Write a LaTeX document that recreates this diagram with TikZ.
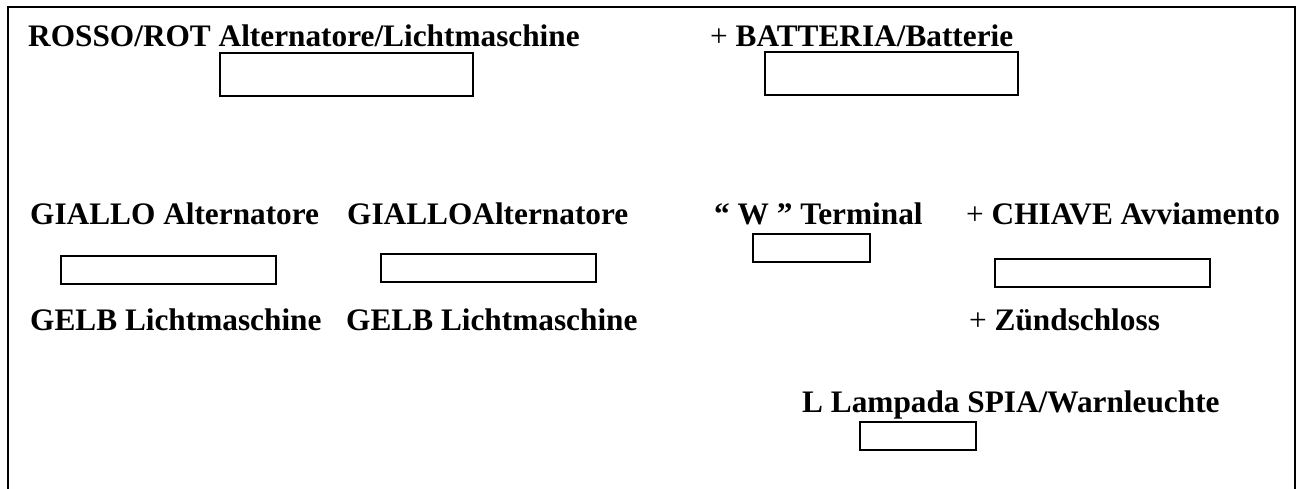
\documentclass[tikz,border=0pt]{standalone}
\usepackage{fontspec}
\setmainfont{Liberation Serif}
\begin{document}
\begin{tikzpicture}[x=1pt,y=-1pt,
  lbl/.style={anchor=base west,inner sep=0pt,font=\fontsize{31.3}{36}\selectfont\bfseries},
  slot/.style={draw,line width=1.5pt},
  frame/.style={line width=1.8pt}]
\useasboundingbox (0,0) rectangle (1299,489);
\draw[frame] (8,489) -- (8,7) -- (1295,7) -- (1295,489);
% row 1
\node[lbl] (rosso) at (28,47) {ROSSO/ROT Alternatore/Lichtmaschine};
\node[lbl] (batt) at (710,47) {\mdseries+ \bfseries BATTERIA/Batterie};
\draw[slot] (220,53) rectangle (473,96);
\draw[slot] (765,52) rectangle (1018,95);
% row 2
\node[lbl] (gial1) at (30,225) {GIALLO Alternatore};
\node[lbl] (gial2) at (347,225) {GIALLOAlternatore};
\node[lbl] (wterm) at (714,225) {“ W ” Terminal};
\node[lbl] (chiave) at (966,225) {\mdseries+ \bfseries CHIAVE Avviamento};
\draw[slot] (753,234) rectangle (870,262);
\draw[slot] (61,256) rectangle (276,284);
\draw[slot] (381,254) rectangle (596,282);
\draw[slot] (995,259) rectangle (1210,287);
% row 3
\node[lbl] (gelb1) at (30,330) {GELB Lichtmaschine};
\node[lbl] (gelb2) at (346,330) {GELB Lichtmaschine};
\node[lbl] (zund) at (969,330) {\mdseries+ \bfseries Zündschloss};
% row 4
\node[lbl] (lamp) at (802,412) {L Lampada SPIA/Warnleuchte};
\draw[slot] (860,422) rectangle (976,450);
\end{tikzpicture}
\end{document}
